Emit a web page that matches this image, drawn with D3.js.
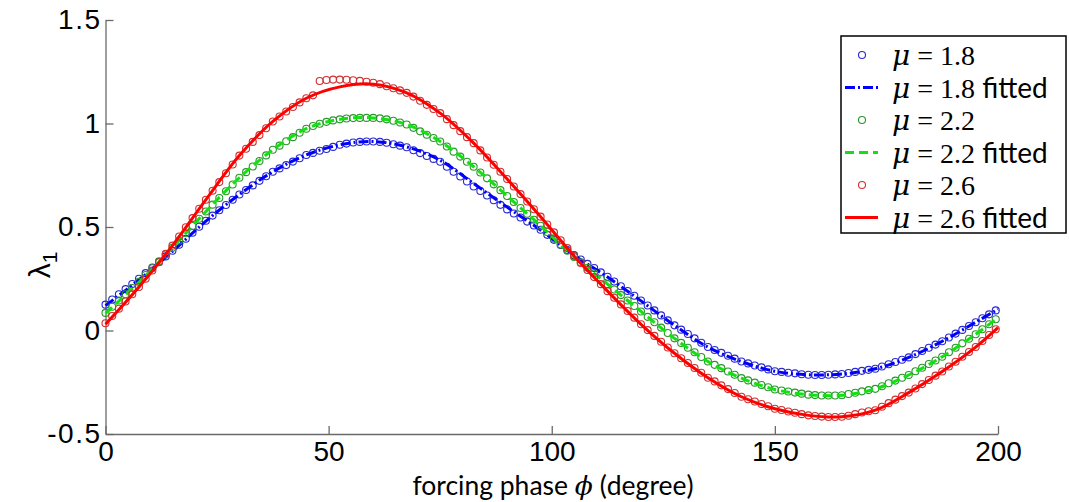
<!DOCTYPE html>
<html>
<head>
<meta charset="utf-8">
<script src="https://cdn.jsdelivr.net/npm/d3@7"></script>
<style>
  body { margin: 0; background: #fff; }
  svg { display: block; }
</style>
</head>
<body>
<svg id="chart"></svg>
<script>
// forcing phase of every measured point (degree)
let phase = [0,1.5,3,4.5,6,7.5,9,10.5,12,13.5,15,16.5,18,19.5,21,22.5,24,25.5,27,28.5,30,31.5,33,34.5,36,37.5,39,40.5,42,43.5,45,46.5,48,49.5,51,52.5,54,55.5,57,58.5,60,61.5,63,64.5,66,67.5,69,70.5,72,73.5,75,76.5,78,79.5,81,82.5,84,85.5,87,88.5,90,91.5,93,94.5,96,97.5,99,100.5,102,103.5,105,106.5,108,109.5,111,112.5,114,115.5,117,118.5,120,121.5,123,124.5,126,127.5,129,130.5,132,133.5,135,136.5,138,139.5,141,142.5,144,145.5,147,148.5,150,151.5,153,154.5,156,157.5,159,160.5,162,163.5,165,166.5,168,169.5,171,172.5,174,175.5,177,178.5,180,181.5,183,184.5,186,187.5,189,190.5,192,193.5,195,196.5,198,199.5];

// measured lambda_1
let mu18 = [0.125,0.15,0.175,0.2,0.225,0.25,0.277,0.304,0.331,0.358,0.385,0.414,0.443,0.472,0.501,0.53,0.555,0.581,0.606,0.632,0.657,0.679,0.701,0.723,0.745,0.767,0.783,0.799,0.816,0.832,0.848,0.858,0.868,0.877,0.887,0.897,0.903,0.908,0.911,0.913,0.913,0.911,0.907,0.9,0.893,0.885,0.871,0.857,0.843,0.829,0.815,0.791,0.767,0.744,0.72,0.696,0.674,0.652,0.629,0.607,0.585,0.565,0.546,0.526,0.507,0.487,0.462,0.438,0.413,0.389,0.364,0.343,0.322,0.302,0.281,0.26,0.237,0.214,0.191,0.168,0.145,0.121,0.097,0.073,0.049,0.025,0.004,-0.017,-0.038,-0.059,-0.08,-0.094,-0.108,-0.122,-0.136,-0.15,-0.159,-0.169,-0.178,-0.188,-0.197,-0.2,-0.204,-0.207,-0.211,-0.214,-0.215,-0.215,-0.214,-0.212,-0.21,-0.205,-0.2,-0.195,-0.19,-0.185,-0.174,-0.163,-0.152,-0.141,-0.13,-0.114,-0.099,-0.083,-0.068,-0.052,-0.034,-0.015,0.003,0.022,0.04,0.059,0.078,0.097];
let mu22 = [0.085,0.115,0.145,0.175,0.205,0.235,0.268,0.301,0.334,0.367,0.4,0.435,0.47,0.505,0.54,0.575,0.608,0.64,0.673,0.705,0.738,0.765,0.792,0.819,0.846,0.873,0.893,0.914,0.934,0.955,0.975,0.988,0.999,1.008,1.015,1.02,1.024,1.026,1.027,1.027,1.027,1.025,1.02,1.013,1.005,0.995,0.979,0.962,0.946,0.93,0.913,0.889,0.864,0.84,0.815,0.791,0.763,0.735,0.706,0.678,0.65,0.621,0.592,0.564,0.535,0.506,0.476,0.445,0.415,0.385,0.355,0.329,0.303,0.276,0.25,0.224,0.198,0.171,0.145,0.118,0.092,0.066,0.04,0.014,-0.012,-0.038,-0.06,-0.083,-0.105,-0.128,-0.15,-0.166,-0.182,-0.198,-0.214,-0.23,-0.241,-0.252,-0.263,-0.274,-0.285,-0.29,-0.295,-0.3,-0.305,-0.31,-0.312,-0.314,-0.314,-0.314,-0.313,-0.307,-0.301,-0.294,-0.288,-0.282,-0.269,-0.255,-0.242,-0.228,-0.215,-0.197,-0.18,-0.162,-0.145,-0.127,-0.105,-0.083,-0.062,-0.04,-0.018,0.006,0.03,0.054];
let mu26 = [0.035,0.07,0.105,0.14,0.175,0.21,0.25,0.29,0.33,0.37,0.41,0.454,0.499,0.543,0.588,0.632,0.675,0.717,0.76,0.802,0.845,0.878,0.911,0.944,0.977,1.01,1.034,1.058,1.08,1.102,1.122,1.136,1.205,1.21,1.212,1.212,1.211,1.209,1.206,1.202,1.197,1.19,1.18,1.17,1.16,1.148,1.13,1.11,1.09,1.07,1.05,1.021,0.992,0.963,0.934,0.905,0.87,0.836,0.801,0.767,0.732,0.696,0.659,0.623,0.586,0.55,0.512,0.474,0.436,0.398,0.36,0.326,0.292,0.258,0.224,0.19,0.158,0.126,0.094,0.062,0.03,0.002,-0.026,-0.054,-0.082,-0.11,-0.134,-0.157,-0.181,-0.204,-0.228,-0.246,-0.265,-0.283,-0.302,-0.32,-0.332,-0.343,-0.355,-0.366,-0.378,-0.384,-0.391,-0.397,-0.404,-0.41,-0.413,-0.416,-0.418,-0.418,-0.417,-0.412,-0.404,-0.396,-0.39,-0.385,-0.368,-0.351,-0.334,-0.317,-0.3,-0.28,-0.259,-0.239,-0.218,-0.198,-0.174,-0.151,-0.127,-0.104,-0.08,-0.051,-0.022,0.006];

// fitted curves
let fitPhase = [0,7.5,15,22.5,30,37.5,45,52.5,60,67.5,75,82.5,90,97.5,105,112.5,120,127.5,135,142.5,150,157.5,165,172.5,180,187.5,195,200];
let fit18 = [0.12,0.245,0.382,0.528,0.657,0.767,0.848,0.897,0.913,0.887,0.822,0.71,0.596,0.485,0.364,0.258,0.143,0.025,-0.08,-0.15,-0.197,-0.214,-0.21,-0.185,-0.13,-0.052,0.04,0.103];
let fit22 = [0.083,0.233,0.4,0.575,0.738,0.873,0.975,1.02,1.027,0.995,0.913,0.791,0.65,0.506,0.355,0.224,0.092,-0.038,-0.15,-0.23,-0.285,-0.31,-0.313,-0.282,-0.215,-0.127,-0.018,0.062];
let fit26 = [0.03,0.21,0.41,0.632,0.845,1.01,1.122,1.177,1.19,1.148,1.05,0.905,0.732,0.55,0.36,0.19,0.03,-0.11,-0.228,-0.32,-0.378,-0.41,-0.417,-0.385,-0.3,-0.198,-0.08,0.014];

let xTicks = [0, 50, 100, 150, 200];
let yTicks = [-0.5, 0, 0.5, 1, 1.5];
let muLabels = ["1.8", "1.8", "2.2", "2.2", "2.6", "2.6"];

let width = 1069, height = 502;
let svg = d3.select("#chart").attr("width", width).attr("height", height);

let xScale = d3.scaleLinear().domain([0, 200]).range([105.5, 998]);
let yScale = d3.scaleLinear().domain([-0.5, 1.5]).range([434, 20]);

// axes (ticks point inward like matlab)
let xAxis = d3.axisBottom(xScale).tickValues(xTicks).tickSizeInner(-8).tickSizeOuter(0).tickPadding(7).tickFormat(d => String(d));
let yAxis = d3.axisLeft(yScale).tickValues(yTicks).tickSizeInner(-8).tickSizeOuter(0).tickPadding(4).tickFormat(d => String(d));

let gx = svg.append("g").attr("transform", "translate(0,434)").call(xAxis);
let gy = svg.append("g").attr("transform", "translate(105.5,0)").call(yAxis);

[gx, gy].forEach(g => {
  g.select(".domain").attr("stroke", "#6a6a6a").attr("stroke-width", 1.3);
  g.selectAll(".tick line").attr("stroke", "#6a6a6a").attr("stroke-width", 1.3);
  g.selectAll(".tick text")
    .attr("fill", "#000")
    .style("font-family", "'Liberation Sans', Arial, sans-serif")
    .style("font-size", "28px");
});
gy.selectAll(".tick text").style("letter-spacing", "1.5px");

// series
let series = [
  { vals: mu18, fit: fit18, circ: "#2a2ad0", line: "#0000ff", dash: "10,3,2,3" },
  { vals: mu22, fit: fit22, circ: "#2a962a", line: "#11e011", dash: "9,5" },
  { vals: mu26, fit: fit26, circ: "#d03030", line: "#ff0000", dash: null }
];

let lineGen = d3.line()
  .x((d, i) => xScale(fitPhase[i]))
  .y(d => yScale(d))
  .curve(d3.curveCatmullRom);

series.forEach(s => {
  svg.append("g").selectAll("circle")
    .data(s.vals)
    .enter()
    .append("circle")
    .attr("cx", (d, i) => xScale(phase[i]))
    .attr("cy", d => yScale(d))
    .attr("r", 3.5)
    .attr("fill", "none")
    .attr("stroke", s.circ)
    .attr("stroke-width", 1.1);

  svg.append("path")
    .datum(s.fit)
    .attr("d", lineGen)
    .attr("fill", "none")
    .attr("stroke", s.line)
    .attr("stroke-width", 3)
    .attr("stroke-dasharray", s.dash);
});

// axis titles
let yl = svg.append("g").attr("transform", "translate(50,265) rotate(-90)");
let ylText = yl.append("text")
  .attr("x", 0).attr("y", 0)
  .attr("text-anchor", "middle")
  .style("font-family", "'Liberation Sans', Arial, sans-serif")
  .style("font-size", "30px");
ylText.append("tspan").text("λ");
ylText.append("tspan").attr("dy", 7).style("font-size", "21px").text("1");

let xl = svg.append("text")
  .attr("x", 553)
  .attr("y", 495)
  .attr("text-anchor", "middle")
  .style("font-family", "Lato, 'Open Sans', sans-serif")
  .style("font-size", "26.5px");
xl.append("tspan").text("forcing phase ");
xl.append("tspan").style("font-family", "'DejaVu Serif', serif").style("font-style", "italic").text("ϕ");
xl.append("tspan").text(" (degree)");

// legend
let legend = svg.append("g");
legend.append("rect")
  .attr("x", 841).attr("y", 36)
  .attr("width", 225).attr("height", 197)
  .attr("fill", "#fff")
  .attr("stroke", "#000")
  .attr("stroke-width", 1.5);

let rowY = d3.scaleLinear().domain([0, 5]).range([55, 217.5]);

muLabels.forEach((lab, i) => {
  let s = series[Math.floor(i / 2)];
  let cy = rowY(i);
  if (i % 2 === 0) {
    legend.append("circle")
      .attr("cx", 862).attr("cy", cy).attr("r", 3.5)
      .attr("fill", "none").attr("stroke", s.circ).attr("stroke-width", 1.1);
  } else {
    legend.append("line")
      .attr("x1", 845).attr("x2", 878)
      .attr("y1", cy).attr("y2", cy)
      .attr("stroke", s.line).attr("stroke-width", 3)
      .attr("stroke-dasharray", s.dash);
  }
  let t = legend.append("text")
    .attr("x", 892).attr("y", cy + 10)
    .style("font-size", "28px");
  t.append("tspan").style("font-family", "'DejaVu Serif', serif").style("font-style", "italic").text("μ");
  t.append("tspan").style("font-family", "'Liberation Serif', serif").text(" = " + lab);
  if (i % 2 === 1) {
    t.append("tspan").style("font-family", "Lato, sans-serif").text(" fitted");
  }
});
</script>
</body>
</html>
